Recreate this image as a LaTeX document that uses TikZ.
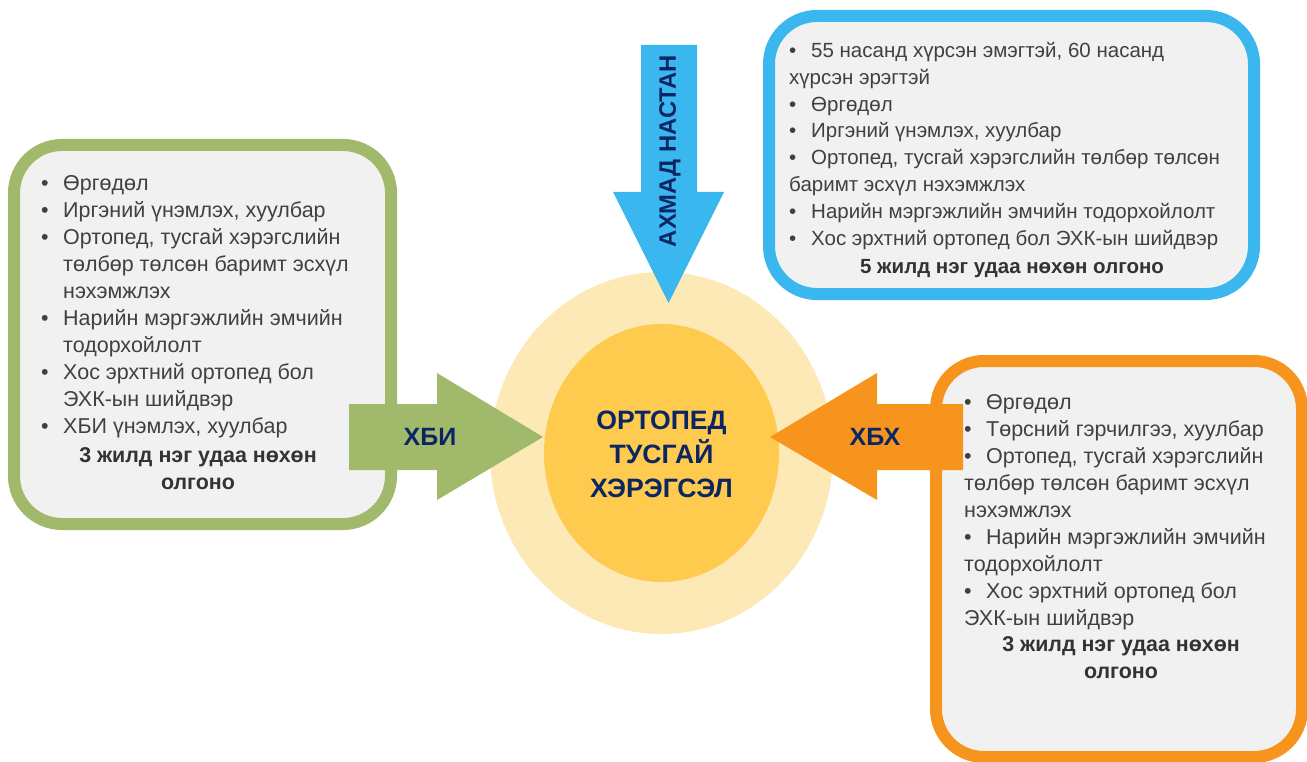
\documentclass[tikz,border=0pt]{standalone}
\usepackage{fontspec}
\setmainfont{Liberation Sans}
\usetikzlibrary{shapes.geometric}
\definecolor{cgreen}{RGB}{161,185,106}
\definecolor{cblue}{RGB}{59,183,240}
\definecolor{corange}{RGB}{247,148,30}
\definecolor{couter}{RGB}{253,233,182}
\definecolor{cinner}{RGB}{254,203,78}
\definecolor{cnavy}{RGB}{12,38,100}
\definecolor{cbox}{RGB}{241,241,241}
\definecolor{ctext}{RGB}{64,64,64}
\newcommand\bl{\makebox[22pt][l]{•}}
\newcommand\ct{\hspace*{22pt}}
\tikzset{
  infobox/.style={line width=12pt, fill=cbox, rounded corners=48pt},
  bodytext/.style={anchor=north west, inner sep=0pt, align=left, text=ctext,
    font=\fontsize{21.5}{27}\selectfont},
  boldtext/.style={anchor=north, inner sep=0pt, align=center, text=ctext!80!black,
    font=\fontsize{21.4}{27}\selectfont\bfseries},
  smallbody/.style={font=\fontsize{20.5}{26.9}\selectfont},
  smallbold/.style={font=\fontsize{20.5}{26.9}\selectfont\bfseries},
  arrowlabel/.style={inner sep=0pt, text=cnavy, font=\fontsize{25}{30}\selectfont\bfseries},
}
\begin{document}
\begin{tikzpicture}[x=1pt,y=-1pt]
\useasboundingbox (0,0) rectangle (1307,762);
% boxes
\draw[infobox, draw=cgreen] (14,145) rectangle (391,524);
\draw[infobox, draw=cblue] (769,16) rectangle (1254,294);
\draw[infobox, draw=corange] (936,361) rectangle (1302,757);
% circles
\node[ellipse, minimum width=343pt, minimum height=362pt, fill=couter, inner sep=0pt] (outer) at (661.5,453) {};
\node[ellipse, minimum width=235pt, minimum height=258pt, fill=cinner, inner sep=0pt] (inner) at (661.5,453) {};
% arrows
\fill[cblue] (641,45) -- (697,45) -- (697,192) -- (724,192) -- (668.5,303) -- (613,192) -- (641,192) -- cycle;
\fill[cgreen] (349,404) -- (437,404) -- (437,373) -- (543,437) -- (437,500) -- (437,470) -- (349,470) -- cycle;
\fill[corange] (963,404) -- (877,404) -- (877,373) -- (770,437) -- (877,500) -- (877,470) -- (963,470) -- cycle;
% labels
\node[arrowlabel] (xbi) at (430,437) {ХБИ};
\node[arrowlabel] (xbx) at (875,437) {ХБХ};
\node[arrowlabel, rotate=90, font=\fontsize{23.8}{28}\selectfont\bfseries] (elder) at (670,151) {АХМАД НАСТАН};
\node[inner sep=0pt, align=center, text=cnavy, font=\fontsize{26.6}{34}\selectfont\bfseries] (center) at (661.5,454) {ОРТОПЕД\\ТУСГАЙ\\ХЭРЭГСЭЛ};
% left box text
\node[bodytext] (lefttext) at (41,171.1) {\strut\bl Өргөдөл\\
\bl Иргэний үнэмлэх, хуулбар\\
\bl Ортопед, тусгай хэрэгслийн\\
\ct төлбөр төлсөн баримт эсхүл\\
\ct нэхэмжлэх\\
\bl Нарийн мэргэжлийн эмчийн\\
\ct тодорхойлолт\\
\bl Хос эрхтний ортопед бол\\
\ct ЭХК-ын шийдвэр\\
\bl ХБИ үнэмлэх, хуулбар};
\node[boldtext] (leftbold) at (198,443.1) {\strut 3 жилд нэг удаа нөхөн\\олгоно};
% blue box text
\node[bodytext, smallbody] (bluetext) at (789,38.2) {\strut\bl 55 насанд хүрсэн эмэгтэй, 60 насанд\\
хүрсэн эрэгтэй\\
\bl Өргөдөл\\
\bl Иргэний үнэмлэх, хуулбар\\
\bl Ортопед, тусгай хэрэгслийн төлбөр төлсөн\\
баримт эсхүл нэхэмжлэх\\
\bl Нарийн мэргэжлийн эмчийн тодорхойлолт\\
\bl Хос эрхтний ортопед бол ЭХК-ын шийдвэр};
\node[boldtext, smallbold] (bluebold) at (1012,254.2) {\strut 5 жилд нэг удаа нөхөн олгоно};
% orange box text
\node[bodytext] (orangetext) at (964,390.1) {\strut\bl Өргөдөл\\
\bl Төрсний гэрчилгээ, хуулбар\\
\bl Ортопед, тусгай хэрэгслийн\\
төлбөр төлсөн баримт эсхүл\\
нэхэмжлэх\\
\bl Нарийн мэргэжлийн эмчийн\\
тодорхойлолт\\
\bl Хос эрхтний ортопед бол\\
ЭХК-ын шийдвэр};
\node[boldtext] (orangebold) at (1121,632.1) {\strut 3 жилд нэг удаа нөхөн\\олгоно};
\end{tikzpicture}
\end{document}
